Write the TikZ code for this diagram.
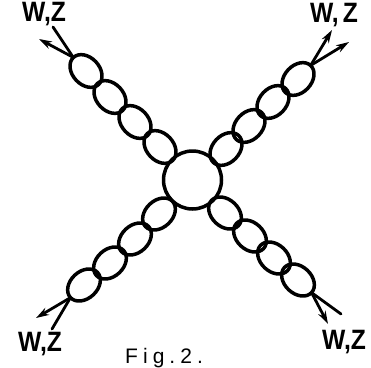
\documentclass[tikz,border=0pt]{standalone}
\usepackage{fontspec}
\setmainfont{Liberation Sans}
\usetikzlibrary{shapes.geometric,arrows.meta}
\tikzset{
  x=1pt,y=-1pt,
  blob/.style={draw,ellipse,line width=3.5pt,minimum width=37pt,minimum height=27pt,inner sep=0pt,outer sep=0pt},
  core/.style={draw,circle,line width=3.5pt,minimum size=58pt,inner sep=0pt,outer sep=0pt},
  leg/.style={line width=2.8pt,line cap=round},
  tipleg/.style={leg,-{Stealth[length=13pt,width=8pt]}},
  lab/.style={inner sep=0pt,font=\fontsize{28}{28}\selectfont\bfseries},
  figcap/.style={inner sep=0pt,anchor=base west,font=\fontsize{21}{21}\selectfont\addfontfeature{LetterSpace=24}}
}
\begin{document}
\begin{tikzpicture}
\useasboundingbox (0,0) rectangle (371,367);
\node[core] (c) at (192.5,180) {};
% top left
\node[blob,rotate=-47] (a1) at (160,147) {};
\node[blob,rotate=-47] (a2) at (135,122) {};
\node[blob,rotate=-47] (a3) at (110,97) {};
\node[blob,rotate=-47] (a4) at (86,71) {};
\coordinate (a5) at (39,39);
\coordinate (a6) at (53,27);
\draw[tipleg] (a4.west) -- (a5);
\draw[leg] (a4.west) -- (a6);
% top right
\node[blob,rotate=47] (b1) at (226,149) {};
\node[blob,rotate=47] (b2) at (249,126) {};
\node[blob,rotate=47] (b3) at (273,102) {};
\node[blob,rotate=47] (b4) at (298,79) {};
\coordinate (b5) at (349,42);
\coordinate (b6) at (332,30);
\draw[tipleg] (b4.east) -- (b5);
\draw[tipleg] (b4.east) -- (b6);
% bottom left
\node[blob,rotate=43] (d1) at (159,214) {};
\node[blob,rotate=43] (d2) at (135,239) {};
\node[blob,rotate=43] (d3) at (110,263) {};
\node[blob,rotate=43] (d4) at (84,285) {};
\coordinate (d5) at (36,318);
\coordinate (d6) at (52,329);
\draw[tipleg] (d4.west) -- (d5);
\draw[leg] (d4.west) -- (d6);
% bottom right
\node[blob,rotate=-43] (e1) at (225,213) {};
\node[blob,rotate=-43] (e2) at (250,236) {};
\node[blob,rotate=-43] (e3) at (274,258) {};
\node[blob,rotate=-43] (e4) at (298,280) {};
\coordinate (e5) at (341,314);
\coordinate (e6) at (328,324);
\draw[leg] (e4.east) -- (e5);
\draw[tipleg] (e4.east) -- (e6);
% labels
\node[lab] (l1) at (44,14) {\scalebox{.88}[1]{W,Z}};
\node[lab] (l2) at (334,15) {\scalebox{.88}[1]{W,\,Z}};
\node[lab] (l3) at (40,344) {\scalebox{.88}[1]{W,Z}};
\node[lab] (l4) at (344,342) {\scalebox{.88}[1]{W,Z}};
\node[figcap] (f) at (125,363) {Fig.2.};
\end{tikzpicture}
\end{document}
